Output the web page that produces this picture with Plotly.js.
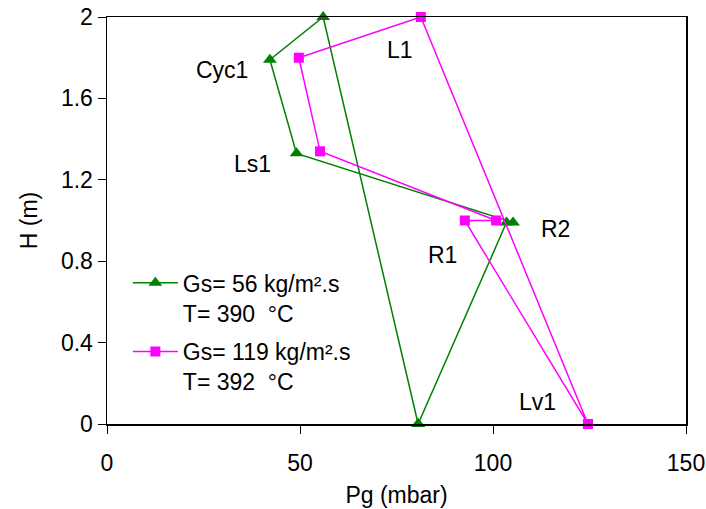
<!DOCTYPE html>
<html>
<head>
<meta charset="utf-8">
<script src="https://cdn.plot.ly/plotly-3.0.1.min.js"></script>
<style>html,body{margin:0;padding:0;background:#fff}#chart{width:706px;height:509px}</style>
</head>
<body>
<div id="chart"></div>
<script>
// Series 1: Gs = 56 kg/m².s, T = 390 °C (closed loop)
var pg56 = [80.6, 103.5, 105.2, 49.1, 42.2, 56.0, 80.6];
var h56  = [0,    0.99,  0.99,  1.33, 1.79, 2.0,  0];
// Series 2: Gs = 119 kg/m².s, T = 392 °C (closed loop)
var pg119 = [124.6, 92.7, 100.8, 55.2, 49.7, 81.3, 124.6];
var h119  = [0,     1.0,  1.0,   1.34, 1.80, 2.0,  0];

var seriesNames = ["Gs= 56 kg/m².s<br>T= 390  °C", "Gs= 119 kg/m².s<br>T= 392  °C"];

var pointLabels = ["Cyc1", "L1", "Ls1", "R2", "R1", "Lv1"];
var labelX = [29.8, 75.9, 37.8, 116.1, 86.8, 111.4];
var labelY = [1.74, 1.84, 1.28, 0.96, 0.83, 0.11];

var xTicks = [0, 50, 100, 150];
var yTicks = [0, 0.4, 0.8, 1.2, 1.6, 2];
var yTickText = ["0", "0.4", "0.8", "1.2", "1.6", "2"];

var FONT = "Liberation Sans, Arial, sans-serif";
var FS = 23;

var traces = [
  {x: pg56, y: h56, mode: "lines+markers", name: seriesNames[0], legendgroup: "g1",
   line: {color: "#008000", width: 1.5},
   marker: {symbol: "triangle-up", size: 12, color: "#008000"},
   cliponaxis: false},
  {x: pg119, y: h119, mode: "lines+markers", name: seriesNames[1], legendgroup: "g2",
   line: {color: "#ff00ff", width: 1.5},
   marker: {symbol: "square", size: 10, color: "#ff00ff"},
   cliponaxis: false}
];

var annotations = pointLabels.map(function(t, i){
  return {x: labelX[i], y: labelY[i], xref: "x", yref: "y", text: t, showarrow: false,
          font: {family: FONT, size: FS, color: "#000"}};
});

var layout = {
  width: 706, height: 509,
  margin: {l: 107, r: 20, t: 17, b: 85},
  paper_bgcolor: "#fff", plot_bgcolor: "#fff",
  font: {family: FONT, size: FS, color: "#000"},
  showlegend: true,
  legend: {x: 0.036, y: 0.40, xanchor: "left", yanchor: "top", bgcolor: "rgba(0,0,0,0)",
           itemwidth: 45,
           font: {family: FONT, size: FS, color: "#000"}, valign: "top", tracegroupgap: 6},
  xaxis: {range: [0, 150], tickvals: xTicks, ticks: "outside", ticklen: 8, tickcolor: "#000",
          ticklabelstandoff: 10,
          showline: true, linecolor: "#000", linewidth: 1.5, mirror: true, showgrid: false, zeroline: false,
          tickfont: {family: FONT, size: FS, color: "#000"},
          title: {text: "Pg (mbar)", font: {family: FONT, size: FS, color: "#000"}, standoff: 12}},
  yaxis: {range: [0, 2], tickvals: yTicks, ticktext: yTickText, ticks: "outside", ticklen: 8, tickcolor: "#000",
          showline: true, linecolor: "#000", linewidth: 1.5, mirror: true, showgrid: false, zeroline: false,
          tickfont: {family: FONT, size: FS, color: "#000"},
          title: {text: "H (m)", font: {family: FONT, size: FS, color: "#000"}, standoff: 17}},
  annotations: annotations
};

Plotly.newPlot("chart", traces, layout, {staticPlot: true, displayModeBar: false});
</script>
</body>
</html>
